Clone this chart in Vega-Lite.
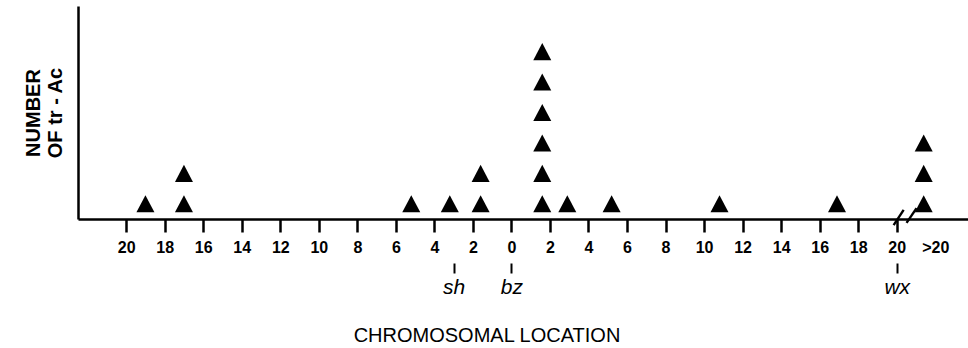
{
  "$schema": "https://vega.github.io/schema/vega-lite/v6.json",
  "width": 890,
  "height": 213,
  "autosize": {"type": "none"},
  "padding": {"left": 78, "top": 6, "right": 0, "bottom": 129},
  "background": "white",
  "config": {
    "view": {"stroke": null},
    "font": "Liberation Sans",
    "axis": {"grid": false, "domainColor": "black", "tickColor": "black", "labelColor": "black", "titleColor": "black"}
  },
  "datasets": {
    "points": [
      {"pos": -19.0, "n": 1},
      {"pos": -17.0, "n": 1},
      {"pos": -17.0, "n": 2},
      {"pos": -5.2, "n": 1},
      {"pos": -3.2, "n": 1},
      {"pos": -1.6, "n": 1},
      {"pos": -1.6, "n": 2},
      {"pos": 1.6, "n": 1},
      {"pos": 1.6, "n": 2},
      {"pos": 1.6, "n": 3},
      {"pos": 1.6, "n": 4},
      {"pos": 1.6, "n": 5},
      {"pos": 1.6, "n": 6},
      {"pos": 2.9, "n": 1},
      {"pos": 5.2, "n": 1},
      {"pos": 10.8, "n": 1},
      {"pos": 16.9, "n": 1},
      {"pos": 21.4, "n": 1},
      {"pos": 21.4, "n": 2},
      {"pos": 21.4, "n": 3}
    ],
    "breaks": [
      {"pos": 19.84, "n": 0.30, "pos2": 20.36, "n2": 0.80},
      {"pos": 20.51, "n": 0.37, "pos2": 21.03, "n2": 0.86}
    ]
  },
  "encoding": {
    "y": {
      "field": "n",
      "type": "quantitative",
      "scale": {"domain": [0.5, 7.5], "nice": false, "zero": false},
      "axis": {
        "title": ["NUMBER", "OF tr - Ac"],
        "ticks": false,
        "labels": false,
        "domainWidth": 2.5,
        "titleFont": "Liberation Sans",
        "titleFontSize": 20,
        "titleFontWeight": "bold",
        "titleLineHeight": 22,
        "titleAngle": 270,
        "titleAlign": "center",
        "titleBaseline": "middle",
        "titleX": -45,
        "titleY": 106.5
      }
    }
  },
  "layer": [
    {
      "data": {"name": "points"},
      "mark": {"type": "point", "shape": "M0,-0.95L1,0.95L-1,0.95Z", "filled": true, "color": "black", "opacity": 1, "size": 324},
      "encoding": {
        "x": {
          "field": "pos",
          "type": "quantitative",
          "scale": {"domain": [-22.5, 23.7], "nice": false, "zero": false},
          "axis": {
            "orient": "bottom",
            "values": [-20, -18, -16, -14, -12, -10, -8, -6, -4, -2, 0, 2, 4, 6, 8, 10, 12, 14, 16, 18, 20, 22],
            "labelExpr": "datum.value > 21 ? '>20' : format(abs(datum.value), 'd')",
            "labelOverlap": false,
            "labelFlush": false,
            "labelFont": "Liberation Sans",
            "labelFontSize": 16,
            "labelFontWeight": "bold",
            "labelPadding": 7,
            "tickSize": 13,
            "tickWidth": 2.5,
            "tickOpacity": {"condition": {"test": "datum.value > 21", "value": 0}, "value": 1},
            "domainWidth": 2.5,
            "title": "CHROMOSOMAL LOCATION",
            "titleFont": "Liberation Sans",
            "titleFontSize": 20,
            "titleFontWeight": "normal",
            "titleX": 408.5,
            "titleY": 116,
            "titleAlign": "center",
            "titleBaseline": "middle"
          }
        }
      }
    },
    {
      "data": {"name": "breaks"},
      "mark": {"type": "rule", "color": "black", "strokeWidth": 2.4},
      "encoding": {
        "x": {
          "field": "pos",
          "type": "quantitative",
          "scale": {"domain": [-22.5, 23.7], "nice": false, "zero": false},
          "axis": {
            "orient": "bottom",
            "values": [-3, 0, 20],
            "labelExpr": "datum.value == -3 ? 'sh' : datum.value == 0 ? 'bz' : 'wx'",
            "offset": 44,
            "domain": false,
            "tickSize": 10,
            "tickWidth": 2,
            "labelOverlap": false,
            "labelFlush": false,
            "labelFont": "Liberation Sans",
            "labelFontStyle": "italic",
            "labelFontSize": 21,
            "labelPadding": 3,
            "title": null
          }
        },
        "x2": {"field": "pos2"},
        "y2": {"field": "n2"}
      }
    }
  ],
  "resolve": {"axis": {"x": "independent"}}
}
